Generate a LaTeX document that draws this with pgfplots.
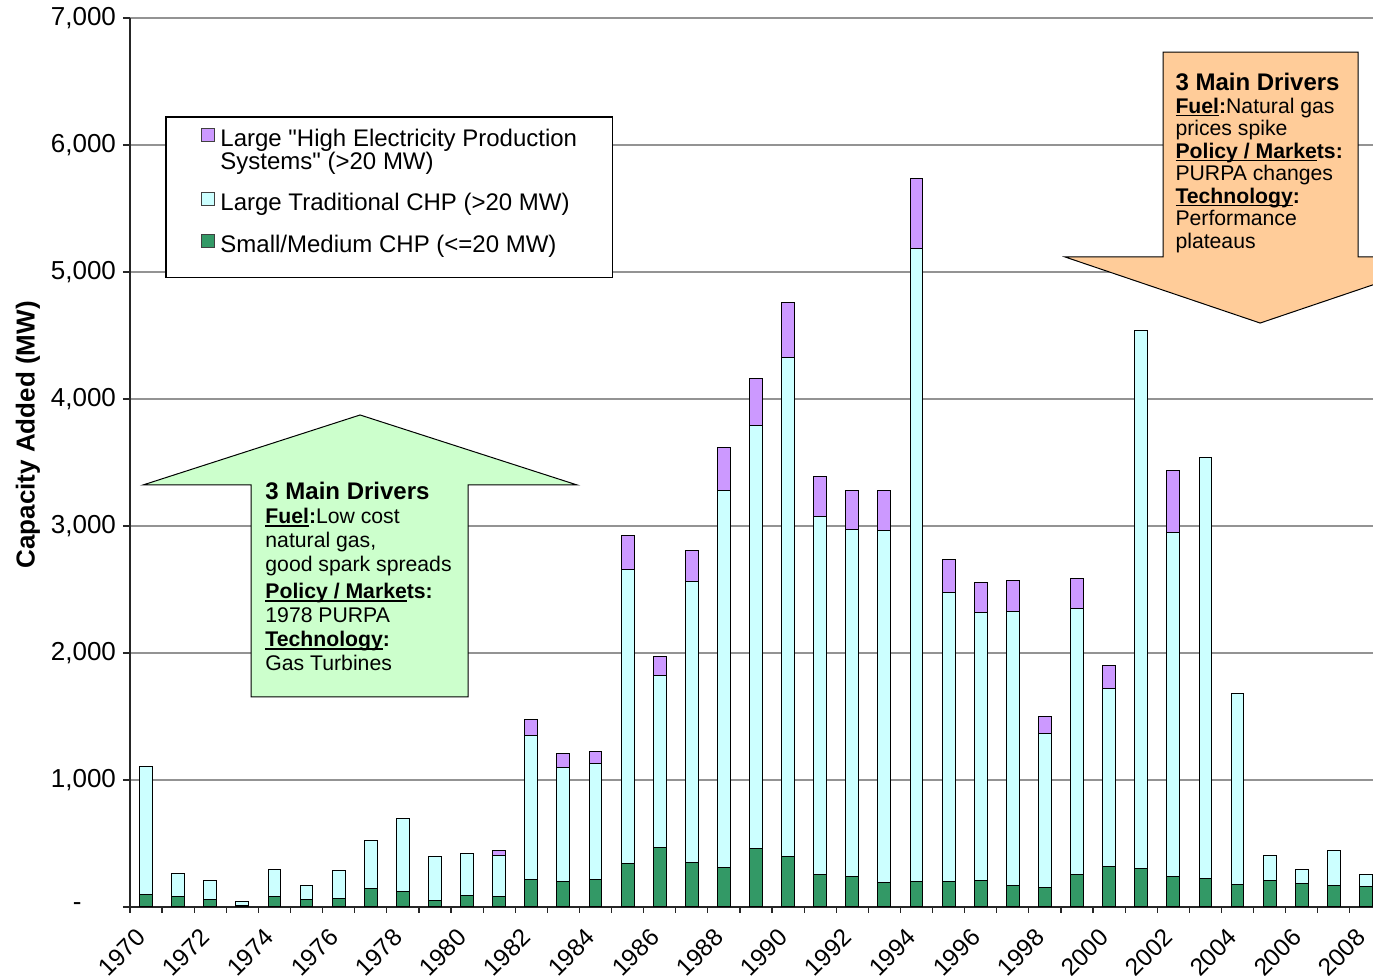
\documentclass[border=0pt]{standalone}
\usepackage{pgfplots}
\pgfplotsset{compat=1.18}
\usepackage{pgfplotstable}
\usepackage{fontspec}
\setmainfont{Liberation Sans}[Ligatures=TeXOff]
\definecolor{cgreen}{HTML}{339966}
\definecolor{ccyan}{HTML}{CCFFFF}
\definecolor{cpurple}{HTML}{CC99FF}
\definecolor{arrgreen}{HTML}{CCFFCC}
\definecolor{arrorange}{HTML}{FFCC99}
\newcommand{\ul}[1]{\setbox0\hbox{#1}\rlap{\rule[-1.6pt]{\wd0}{0.8pt}}\box0}
\pgfplotsset{
  sqlegend/.style={legend image code/.code={\draw[##1, draw=black!75, line width=0.5pt] (0pt,2.5pt) rectangle (6.5pt,9pt);}},
  sqlegendhigh/.style={legend image code/.code={\draw[##1, draw=black!75, line width=0.5pt] (0pt,14pt) rectangle (6.5pt,20.5pt);}},
}
\pgfplotstableread{
idx green cyan purple
0 100 1005 0
1 84 181 0
2 55 152 0
3 13 29 0
4 79 215 0
5 55 113 0
6 63 226 0
7 144 381 0
8 121 577 0
9 50 346 0
10 94 331 0
11 81 328 37
12 220 1129 129
13 197 905 105
14 215 911 102
15 339 2322 263
16 465 1359 147
17 352 2207 250
18 307 2976 334
19 459 3336 370
20 394 3929 435
21 252 2824 315
22 242 2732 304
23 189 2774 315
24 197 4990 553
25 201 2278 255
26 205 2112 239
27 166 2158 244
28 154 1209 135
29 255 2092 236
30 317 1405 181
31 301 4240 0
32 243 2707 490
33 224 3313 0
34 178 1505 0
35 212 193 0
36 185 112 0
37 170 278 0
38 158 101 0
}\datatable
\begin{document}
\begin{tikzpicture}
\begin{axis}[
  scale only axis,
  width=621.5pt, height=444.5pt,
  ybar stacked, bar width=0.4,
  xmin=-0.5, xmax=38.22, ymin=0, ymax=7000,
  enlargelimits=false,
  axis x line*=bottom, axis y line*=left,
  axis line style={-, black!85, line width=0.6pt},
  ymajorgrids, grid style={gray!85, line width=0.6pt},
  ytick={0,1000,...,7000},
  yticklabels={{\makebox[21.5pt][l]{-}},{1,000},{2,000},{3,000},{4,000},{5,000},{6,000},{7,000}},
  xtick={0,2,...,38},
  xticklabels={1970,1972,1974,1976,1978,1980,1982,1984,1986,1988,1990,1992,1994,1996,1998,2000,2002,2004,2006,2008},
  minor xtick={-0.5,0.5,...,38.5},
  major x tick style={draw=none},
  minor x tick style={black!85, line width=0.6pt},
  ytick style={black!85, line width=0.6pt},
  tick align=outside,
  major tick length=3.5pt, minor tick length=3pt,
  yticklabel style={font=\fontsize{13}{15}\selectfont},
  xticklabel style={font=\fontsize{12.2}{14}\selectfont, rotate=45, anchor=north east, inner sep=0pt, xshift=-8.4pt, yshift=-0.6pt},
  /pgf/number format/assume math mode=true,
  ylabel={\bfseries Capacity Added (MW)},
  ylabel style={font=\fontsize{13}{15}\selectfont, at={(axis description cs:-0.0821,0.531)}, anchor=center},
  legend style={name=leg, at={(0.029,0.8886)}, anchor=north west, draw=none, fill=white,
    font=\fontsize{12}{11.5}\selectfont, row sep=10pt, column sep=2.5pt,
    inner xsep=17.5pt, inner ysep=5.2pt, nodes={inner sep=0pt},
    cells={anchor=base west}},
  sqlegend,
  reverse legend,
]
\addplot[fill=cgreen, draw=black, line width=0.5pt] table[x=idx, y=green] {\datatable};
\addlegendentry{Small/Medium CHP (<=20 MW)}
\addplot[fill=ccyan, draw=black, line width=0.5pt] table[x=idx, y=cyan] {\datatable};
\addlegendentry{Large Traditional CHP (>20 MW)}
\addplot[fill=cpurple, draw=black, line width=0.5pt, sqlegendhigh] table[x=idx, y=purple] {\datatable};
\addlegendentry{\vbox{\hbox{Large "High Electricity Production}\hbox{Systems" (>20 MW)}}}

\draw[fill=arrgreen, draw=black, line width=0.5pt]
  (axis cs:3.271,1654) -- (axis cs:3.271,3323) -- (axis cs:-0.093,3323) -- (axis cs:6.667,3874)
  -- (axis cs:13.427,3323) -- (axis cs:10.031,3323) -- (axis cs:10.031,1654) -- cycle;
\draw[fill=arrorange, draw=black, line width=0.5pt]
  (axis cs:31.682,6732) -- (axis cs:31.682,5118) -- (axis cs:28.629,5118) -- (axis cs:34.704,4598)
  -- (axis cs:40.78,5118) -- (axis cs:37.757,5118) -- (axis cs:37.757,6732) -- cycle;

\coordinate (GT) at (axis cs:3.707,3346);
\coordinate (OT) at (axis cs:32.056,6567);
\coordinate (BL) at (rel axis cs:0,0);
\coordinate (TR) at (rel axis cs:1,1);
\end{axis}
\fill[white] ([yshift=0.5pt]leg.south west) rectangle ([yshift=-5.7pt]leg.south east);
\draw[black, line width=0.6pt] (leg.north west) rectangle ([yshift=-5.7pt]leg.south east);
\node[anchor=north west, inner sep=0pt, align=left, font=\fontsize{10.6}{12}\selectfont] at (GT)
 {{\fontsize{12}{12}\selectfont\bfseries 3 Main Drivers}\\
  \ul{\textbf{Fuel}}\textbf{:}Low cost\\
  natural gas,\\
  good spark spreads\\[1.5pt]
  \ul{\textbf{Policy / Marke}}\textbf{ts:}\\
  1978 PURPA\\
  \ul{\textbf{Technology}}\textbf{:}\\
  Gas Turbines};
\node[anchor=north west, inner sep=0pt, align=left, font=\fontsize{10.6}{11.25}\selectfont] at (OT)
 {{\fontsize{12}{12}\selectfont\bfseries 3 Main Drivers}\\
  \ul{\textbf{Fuel}}\textbf{:}Natural gas\\
  prices spike\\
  \ul{\textbf{Policy / Marke}}\textbf{ts:}\\
  PURPA changes\\
  \ul{\textbf{Technology}}\textbf{:}\\
  Performance\\
  plateaus};
\pgfresetboundingbox
\useasboundingbox ([xshift=-65pt,yshift=-34.5pt]BL) rectangle ([yshift=9pt]TR);
\end{tikzpicture}
\end{document}
